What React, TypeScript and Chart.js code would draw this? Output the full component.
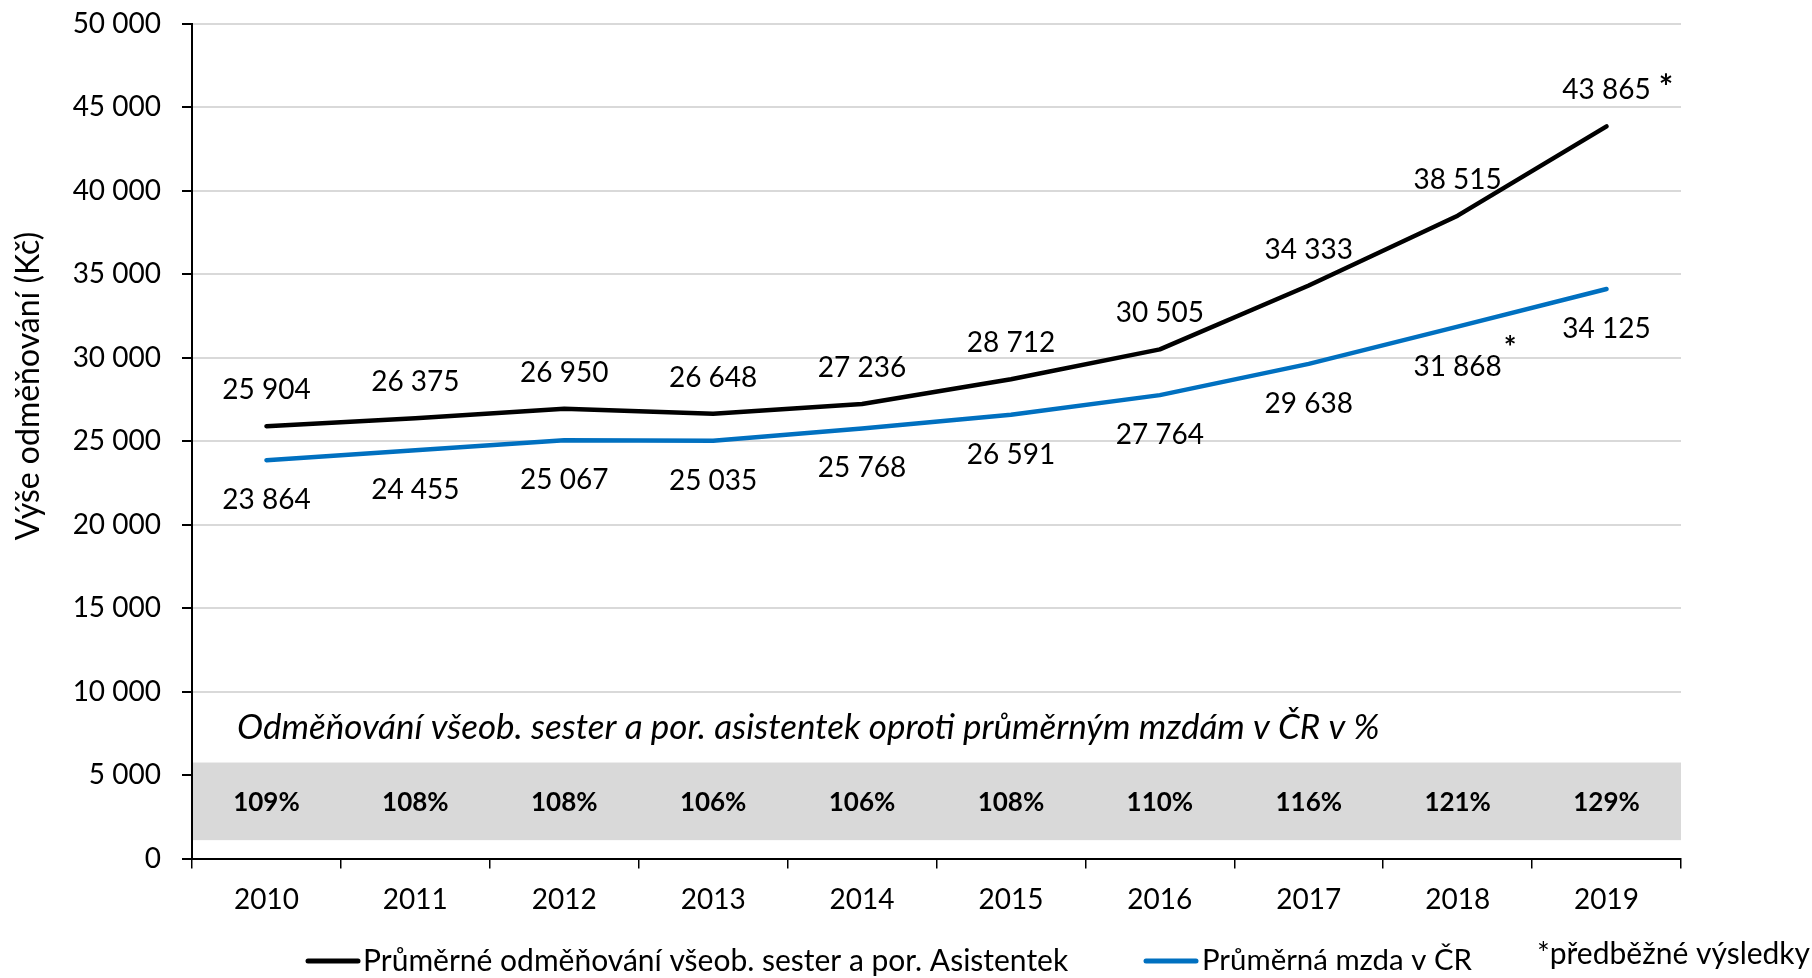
import React, { useEffect, useRef } from 'react';
import { Chart, registerables } from 'chart.js';

Chart.register(...registerables);

// ---- data ----
const years = ['2010', '2011', '2012', '2013', '2014', '2015', '2016', '2017', '2018', '2019'];
const nurseSalary = [25904, 26375, 26950, 26648, 27236, 28712, 30505, 34333, 38515, 43865];
const avgWage = [23864, 24455, 25067, 25035, 25768, 26591, 27764, 29638, 31868, 34125];
const ratioLabels = ['109%', '108%', '108%', '106%', '106%', '108%', '110%', '116%', '121%', '129%'];
const nursePreliminary = [false, false, false, false, false, false, false, false, false, true];
const wagePreliminary = [false, false, false, false, false, false, false, false, true, false];
const seriesNames = ['Průměrné odměňování všeob. sester a por. Asistentek', 'Průměrná mzda v ČR'];
const yTitle = 'Výše odměňování (Kč)';
const bandTitle = 'Odměňování všeob. sester a por. asistentek oproti průměrným mzdám v ČR v %';
const footnote = '*předběžné výsledky';
const yMin = 0;
const yMax = 50000;
const yStep = 5000;

const FONT = 'Lato, "Open Sans", sans-serif';
const BLACK = '#000000';
const BLUE = '#0070C0';
const GRAY = '#D9D9D9';

const fmt = (v: number) => String(Math.round(v)).replace(/\B(?=(\d{3})+(?!\d))/g, ' ');

const overlayPlugin = {
  id: 'overlay',
  beforeDatasetsDraw(chart: any) {
    const { ctx, chartArea, scales } = chart;
    const x = scales.x;
    const y = scales.y;
    ctx.save();
    // grey band for ratios
    const top = y.getPixelForValue(5750);
    const bot = y.getPixelForValue(1100);
    ctx.fillStyle = GRAY;
    ctx.fillRect(chartArea.left + 1, top, chartArea.right - chartArea.left - 1, bot - top);
    // band title
    ctx.fillStyle = BLACK;
    ctx.textBaseline = 'middle';
    ctx.textAlign = 'left';
    ctx.font = `italic 35px ${FONT}`;
    ctx.fillText(bandTitle, chartArea.left + 45, y.getPixelForValue(7830));
    // ratio values
    ctx.font = `bold 26px ${FONT}`;
    ctx.textAlign = 'center';
    const ry = y.getPixelForValue(3330);
    ratioLabels.forEach((t, i) => ctx.fillText(t, x.getPixelForValue(i), ry));
    ctx.restore();
  },
  afterDatasetsDraw(chart: any) {
    const { ctx } = chart;
    ctx.save();
    ctx.fillStyle = BLACK;
    ctx.textBaseline = 'middle';
    ctx.textAlign = 'center';
    const m0 = chart.getDatasetMeta(0).data;
    const m1 = chart.getDatasetMeta(1).data;
    nurseSalary.forEach((v, i) => {
      const p = m0[i];
      const t = fmt(v);
      const ly = p.y - 36;
      ctx.font = `28px ${FONT}`;
      ctx.fillText(t, p.x, ly);
      if (nursePreliminary[i]) {
        const w = ctx.measureText(t).width;
        ctx.font = `bold 34px ${FONT}`;
        ctx.textAlign = 'left';
        ctx.fillText('*', p.x + w / 2 + 8, ly - 2);
        ctx.textAlign = 'center';
      }
    });
    avgWage.forEach((v, i) => {
      const p = m1[i];
      const t = fmt(v);
      const ly = p.y + 40;
      ctx.font = `28px ${FONT}`;
      ctx.fillText(t, p.x, ly);
      if (wagePreliminary[i]) {
        const w = ctx.measureText(t).width;
        ctx.font = `bold 30px ${FONT}`;
        ctx.textAlign = 'left';
        ctx.fillText('*', p.x + w / 2 + 2, ly - 18);
        ctx.textAlign = 'center';
      }
    });
    ctx.restore();
  },
  afterDraw(chart: any) {
    const { ctx } = chart;
    ctx.save();
    ctx.fillStyle = BLACK;
    // y axis title
    ctx.font = `32px ${FONT}`;
    ctx.textAlign = 'center';
    ctx.textBaseline = 'middle';
    ctx.translate(29, 386);
    ctx.rotate(-Math.PI / 2);
    ctx.fillText(yTitle, 0, 0);
    ctx.restore();

    // legend
    ctx.save();
    ctx.lineCap = 'round';
    ctx.lineWidth = 5;
    const ly = 961;
    ctx.strokeStyle = BLACK;
    ctx.beginPath();
    ctx.moveTo(308, ly);
    ctx.lineTo(358, ly);
    ctx.stroke();
    ctx.strokeStyle = BLUE;
    ctx.beginPath();
    ctx.moveTo(1146, ly);
    ctx.lineTo(1196, ly);
    ctx.stroke();
    ctx.fillStyle = BLACK;
    ctx.textAlign = 'left';
    ctx.textBaseline = 'middle';
    ctx.font = `30px ${FONT}`;
    ctx.fillText(seriesNames[0], 363, ly);
    ctx.font = `29.4px ${FONT}`;
    ctx.fillText(seriesNames[1], 1202, ly);
    ctx.font = `30px ${FONT}`;
    ctx.fillText(footnote, 1537, 954);
    ctx.restore();
  },
};

export default function App() {
  const ref = useRef<HTMLCanvasElement | null>(null);

  useEffect(() => {
    if (!ref.current) return;
    const tickFont = { family: FONT, size: 28 };
    const chart = new Chart(ref.current, {
      type: 'line',
      data: {
        labels: years,
        datasets: [
          {
            label: seriesNames[0],
            data: nurseSalary,
            borderColor: BLACK,
            backgroundColor: BLACK,
            borderWidth: 4.5,
            pointRadius: 0,
            tension: 0,
            borderCapStyle: 'round',
            borderJoinStyle: 'round',
          },
          {
            label: seriesNames[1],
            data: avgWage,
            borderColor: BLUE,
            backgroundColor: BLUE,
            borderWidth: 4.5,
            pointRadius: 0,
            tension: 0,
            borderCapStyle: 'round',
            borderJoinStyle: 'round',
          },
        ],
      },
      options: {
        animation: false,
        responsive: true,
        maintainAspectRatio: false,
        layout: { padding: { top: 24, right: 131, bottom: 0, left: 0 } },
        plugins: {
          legend: { display: false },
          tooltip: { enabled: false },
        },
        scales: {
          x: {
            type: 'category',
            offset: true,
            grid: {
              offset: true,
              drawOnChartArea: false,
              drawTicks: true,
              tickLength: 10,
              color: BLACK,
              lineWidth: 1.5,
            },
            border: { color: BLACK, width: 2 },
            ticks: { color: BLACK, font: tickFont, padding: 15, maxRotation: 0, autoSkip: false },
            afterFit: (s: any) => {
              s.height = 119.5;
            },
          },
          y: {
            min: yMin,
            max: yMax,
            ticks: {
              stepSize: yStep,
              color: BLACK,
              font: tickFont,
              padding: 21,
              callback: (v: any) => fmt(Number(v)),
            },
            grid: {
              color: GRAY,
              lineWidth: 2,
              tickColor: BLACK,
              tickLength: 10,
              drawTicks: true,
            },
            border: { color: BLACK, width: 2 },
            afterFit: (s: any) => {
              s.width = 192;
              s.paddingTop = 0;
              s.paddingBottom = 0;
            },
          },
        },
      } as any,
      plugins: [overlayPlugin],
    });
    return () => chart.destroy();
  }, []);

  return (
    <div style={{ position: 'fixed', left: 0, top: 0, width: 1812, height: 978, background: '#fff' }}>
      <canvas ref={ref} />
    </div>
  );
}
